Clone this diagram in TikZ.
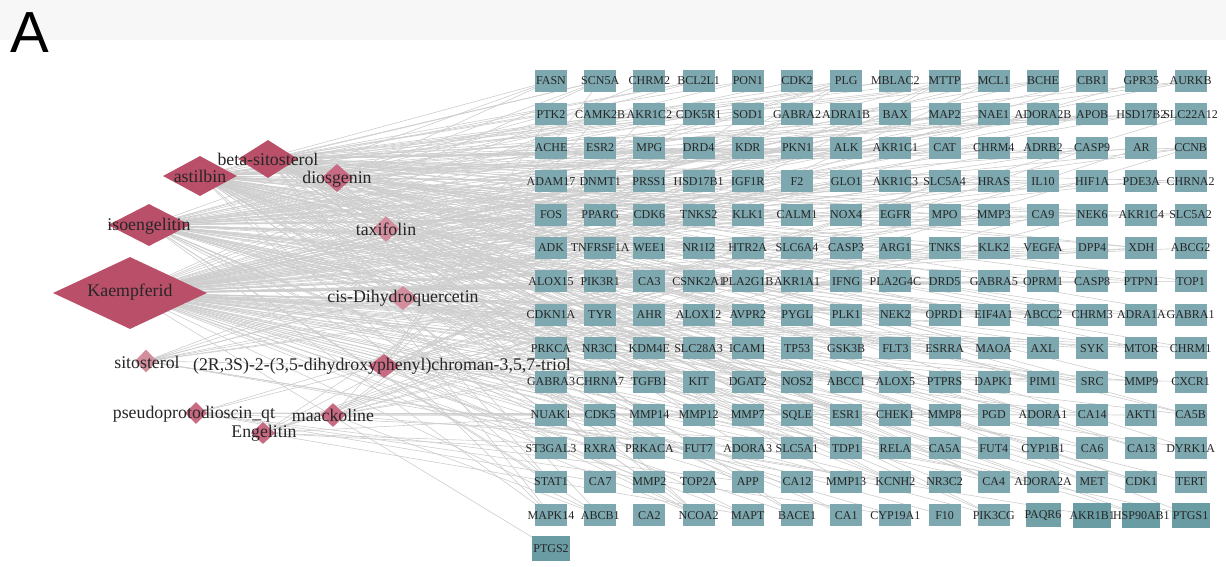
\documentclass[tikz,border=0pt]{standalone}
\usepackage{fontspec}
\setmainfont{Liberation Serif}
\newfontfamily\sansA{Liberation Sans}
\usetikzlibrary{shapes.geometric}
\pgfdeclarelayer{background}
\pgfsetlayers{background,main}
\definecolor{boxfill}{HTML}{7DA8AF}
\definecolor{boxdark}{HTML}{6A9CA4}
\definecolor{cpdA}{HTML}{B94F68}
\definecolor{cpdB}{HTML}{C76A82}
\definecolor{cpdC}{HTML}{D38E9E}
\definecolor{edgecol}{HTML}{CDCDCD}
\definecolor{txt}{HTML}{262626}
\tikzset{
  tbox/.style={draw=none, fill=boxfill, minimum width=32pt, minimum height=22pt, inner sep=0pt},
  tlab/.style={text=txt, inner sep=0pt, font=\fontsize{12}{12}\selectfont},
  cpd/.style={shape=diamond, draw=none, inner sep=0pt},
  clab/.style={text=txt, inner sep=0pt, font=\fontsize{17.8}{17.8}\selectfont},
  edge/.style={draw=edgecol, line width=0.6pt},
}
\begin{document}
\begin{tikzpicture}[x=1pt, y=-1pt]
\useasboundingbox (0,0) rectangle (1226,566);
\node[anchor=base west, inner sep=0pt, font=\sansA\fontsize{58}{58}\selectfont] (letterA) at (10,52) {A};

% compounds
\node[cpd, fill=cpdA, minimum width=154pt, minimum height=72pt] (K) at (130,293) {};
\node[cpd, fill=cpdA, minimum width=82pt, minimum height=42pt] (iso) at (149,225) {};
\node[cpd, fill=cpdA, minimum width=74pt, minimum height=40pt] (ast) at (200,176) {};
\node[cpd, fill=cpdA, minimum width=60pt, minimum height=38pt] (beta) at (268,159) {};
\node[cpd, fill=cpdB, minimum width=32pt, minimum height=28pt] (dio) at (337,178) {};
\node[cpd, fill=cpdC, minimum width=27pt, minimum height=26pt] (taxi) at (386,229) {};
\node[cpd, fill=cpdC, minimum width=30pt, minimum height=24pt] (cis) at (403,298) {};
\node[cpd, fill=cpdC, minimum width=22pt, minimum height=23pt] (sito) at (146,361) {};
\node[cpd, fill=cpdB, minimum width=32pt, minimum height=24pt] (tri) at (384,366) {};
\node[cpd, fill=cpdB, minimum width=22pt, minimum height=22pt] (pseudo) at (196,413) {};
\node[cpd, fill=cpdB, minimum width=25pt, minimum height=24pt] (maack) at (333,415) {};
\node[cpd, fill=cpdB, minimum width=24pt, minimum height=22pt] (eng) at (263,433) {};

% targets
\foreach \nm [count=\n] in {FASN,SCN5A,CHRM2,BCL2L1,PON1,CDK2,PLG,MBLAC2,MTTP,MCL1,BCHE,CBR1,GPR35,AURKB,
PTK2,CAMK2B,AKR1C2,CDK5R1,SOD1,GABRA2,ADRA1B,BAX,MAP2,NAE1,ADORA2B,APOB,HSD17B2,SLC22A12,
ACHE,ESR2,MPG,DRD4,KDR,PKN1,ALK,AKR1C1,CAT,CHRM4,ADRB2,CASP9,AR,CCNB,
ADAM17,DNMT1,PRSS1,HSD17B1,IGF1R,F2,GLO1,AKR1C3,SLC5A4,HRAS,IL10,HIF1A,PDE3A,CHRNA2,
FOS,PPARG,CDK6,TNKS2,KLK1,CALM1,NOX4,EGFR,MPO,MMP3,CA9,NEK6,AKR1C4,SLC5A2,
ADK,TNFRSF1A,WEE1,NR1I2,HTR2A,SLC6A4,CASP3,ARG1,TNKS,KLK2,VEGFA,DPP4,XDH,ABCG2,
ALOX15,PIK3R1,CA3,CSNK2A1,PLA2G1B,AKR1A1,IFNG,PLA2G4C,DRD5,GABRA5,OPRM1,CASP8,PTPN1,TOP1,
CDKN1A,TYR,AHR,ALOX12,AVPR2,PYGL,PLK1,NEK2,OPRD1,EIF4A1,ABCC2,CHRM3,ADRA1A,GABRA1,
PRKCA,NR3C1,KDM4E,SLC28A3,ICAM1,TP53,GSK3B,FLT3,ESRRA,MAOA,AXL,SYK,MTOR,CHRM1,
GABRA3,CHRNA7,TGFB1,KIT,DGAT2,NOS2,ABCC1,ALOX5,PTPRS,DAPK1,PIM1,SRC,MMP9,CXCR1,
NUAK1,CDK5,MMP14,MMP12,MMP7,SQLE,ESR1,CHEK1,MMP8,PGD,ADORA1,CA14,AKT1,CA5B,
ST3GAL3,RXRA,PRKACA,FUT7,ADORA3,SLC5A1,TDP1,RELA,CA5A,FUT4,CYP1B1,CA6,CA13,DYRK1A,
STAT1,CA7,MMP2,TOP2A,APP,CA12,MMP13,KCNH2,NR3C2,CA4,ADORA2A,MET,CDK1,TERT,
MAPK14,ABCB1,CA2,NCOA2,MAPT,BACE1,CA1,CYP19A1,F10,PIK3CG,PAQR6,AKR1B1,HSP90AB1,PTGS1,
PTGS2}{
  \pgfmathtruncatemacro\rr{int((\n-1)/14)}
  \pgfmathtruncatemacro\cc{mod(\n-1,14)}
  \ifnum\n>193
    \node[tbox, fill=boxdark, minimum width=38pt, minimum height=25pt] (t\n) at ({551+49.2*\cc},{81+33.4*\rr}) {};
  \else\ifnum\n=193
    \node[tbox, fill=boxdark!60!boxfill, minimum width=35pt, minimum height=24pt] (t\n) at ({551+49.2*\cc},{81+33.4*\rr}) {};
  \else
    \node[tbox] (t\n) at ({551+49.2*\cc},{81+33.4*\rr}) {};
  \fi\fi
  \node[tlab] (t\n l) at (t\n) {\nm};
}

% background band and edges
\pgfmathsetseed{7}
\begin{pgfonlayer}{background}
\fill[black!3] (0,0) rectangle (1226,40);
\foreach \n in {1,...,197}{
  \foreach \cp/\p in {K/0.62,iso/0.38,ast/0.36,beta/0.34,dio/0.12,taxi/0.08,cis/0.08,sito/0.06,tri/0.08,pseudo/0.07,maack/0.08,eng/0.08}{
    \pgfmathtruncatemacro\hit{rnd<\p ? 1 : 0}
    \ifnum\hit=1
      \draw[edge] (\cp.center) -- (t\n.center);
    \fi
  }
}
\end{pgfonlayer}

% compound labels
\node[clab] (Kl) at (130,292) {Kaempferid};
\node[clab] (isol) at (149,226) {isoengelitin};
\node[clab] (astl) at (200,176) {astilbin};
\node[clab] (betal) at (268,159) {beta-sitosterol};
\node[clab] (diol) at (337,179) {diosgenin};
\node[clab] (taxil) at (386,229) {taxifolin};
\node[clab] (cisl) at (403,298) {cis-Dihydroquercetin};
\node[clab] (sitol) at (147,362) {sitosterol};
\node[clab] (tril) at (382,366) {(2R,3S)-2-(3,5-dihydroxyphenyl)chroman-3,5,7-triol};
\node[clab] (pseudol) at (194,414) {pseudoprotodioscin\_qt};
\node[clab] (maackl) at (333,415) {maackoline};
\node[clab] (engl) at (264,433) {Engelitin};
\end{tikzpicture}
\end{document}
